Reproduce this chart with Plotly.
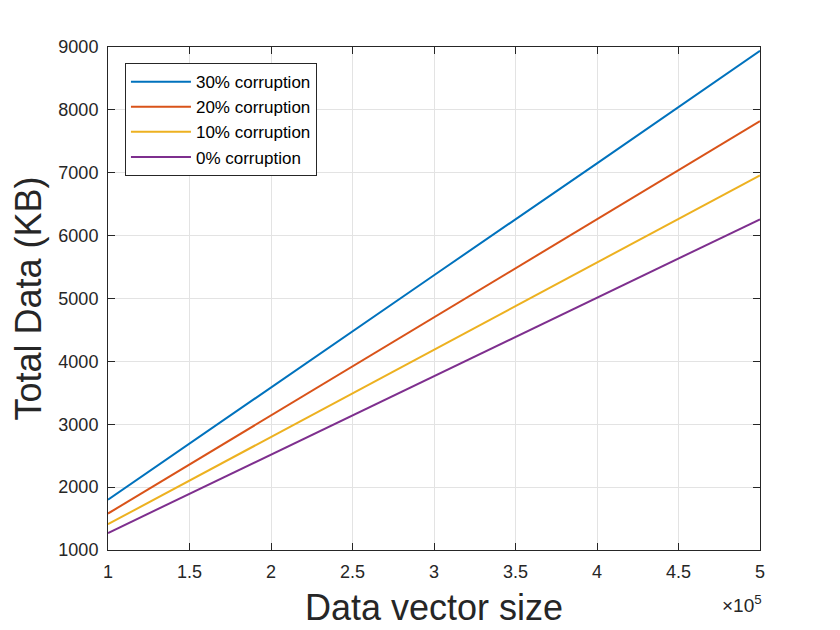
import plotly.graph_objects as go

# data vector size and total data
sizes = [100000, 200000, 300000, 400000, 500000]
corr_30 = [1800, 3590, 5370, 7150, 8940]
corr_20 = [1580, 3140, 4700, 6260, 7820]
corr_10 = [1410, 2800, 4180, 5570, 6960]
corr_0 = [1270, 2520, 3770, 5010, 6260]

x_ticks = [100000, 150000, 200000, 250000, 300000, 350000, 400000, 450000, 500000]
x_tick_text = ["1", "1.5", "2", "2.5", "3", "3.5", "4", "4.5", "5"]
y_ticks = [1000, 2000, 3000, 4000, 5000, 6000, 7000, 8000, 9000]

font = "Liberation Sans, Arial, sans-serif"
axis_col = "#262626"

fig = go.Figure()
fig.add_trace(go.Scatter(x=sizes, y=corr_30, mode="lines", name="30% corruption",
                         line=dict(color="#0072BD", width=2)))
fig.add_trace(go.Scatter(x=sizes, y=corr_20, mode="lines", name="20% corruption",
                         line=dict(color="#D95319", width=2)))
fig.add_trace(go.Scatter(x=sizes, y=corr_10, mode="lines", name="10% corruption",
                         line=dict(color="#EDB120", width=2)))
fig.add_trace(go.Scatter(x=sizes, y=corr_0, mode="lines", name="0% corruption",
                         line=dict(color="#7E2F8E", width=2)))

axis_style = dict(showline=True, linecolor=axis_col, linewidth=1, mirror="ticks",
                  ticks="inside", ticklen=7, tickcolor=axis_col, ticklabelstandoff=5,
                  showgrid=True, gridcolor="#e3e3e3", gridwidth=1, zeroline=False,
                  tickfont=dict(family=font, size=18, color=axis_col))

fig.update_xaxes(range=[100000, 500000], tickvals=x_ticks, ticktext=x_tick_text,
                 title=dict(text="Data vector size", font=dict(family=font, size=36, color=axis_col),
                            standoff=14),
                 **axis_style)
fig.update_yaxes(range=[1000, 9000], tickvals=y_ticks,
                 title=dict(text="Total Data (KB)", font=dict(family=font, size=36, color=axis_col),
                            standoff=6),
                 **axis_style)

# exponent label under the right end of the x axis
fig.add_annotation(x=1, y=0, xref="paper", yref="paper", xanchor="right", yanchor="top",
                   yshift=-40, xshift=4, showarrow=False,
                   text="×10<sup>5</sup>", font=dict(family=font, size=19, color=axis_col))

# the page body adds 8px, so margins are shifted to keep the plot area in place
fig.update_layout(width=840, height=630, plot_bgcolor="white", paper_bgcolor="white",
                  margin=dict(l=100, r=88, t=39, b=88),
                  legend=dict(x=0.026, y=0.968, xanchor="left", yanchor="top",
                              bgcolor="white", bordercolor=axis_col, borderwidth=1,
                              font=dict(family=font, size=17, color="black"),
                              tracegroupgap=0, itemwidth=60))

fig.write_html("out.html")
